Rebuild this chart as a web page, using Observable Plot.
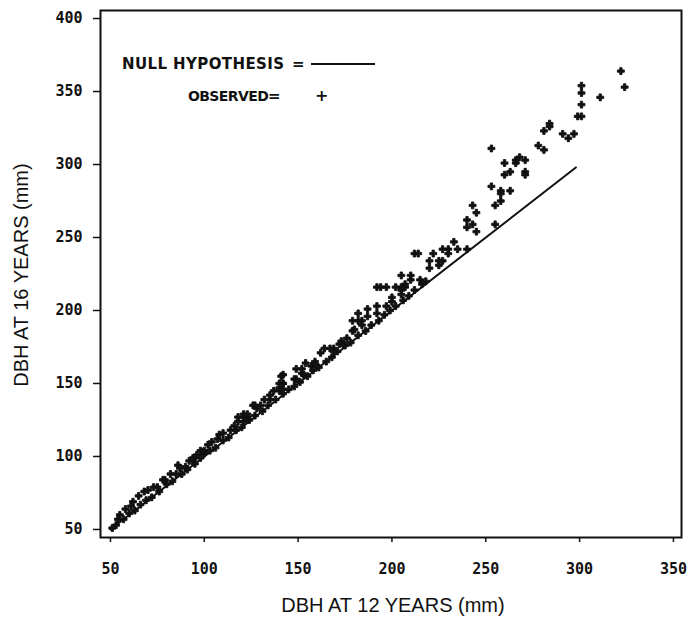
<!DOCTYPE html>
<html>
<head>
<meta charset="utf-8">
<script src="https://cdn.jsdelivr.net/npm/d3@7"></script>
<script src="https://cdn.jsdelivr.net/npm/@observablehq/plot@0.6"></script>
<style>
  html, body { margin: 0; padding: 0; background: white; }
  #wrap { position: relative; width: 689px; height: 617px; overflow: hidden; font-family: "Liberation Sans", Arial, sans-serif; color: #111; }
  .lg { position: absolute; font-family: "DejaVu Sans", sans-serif; font-weight: bold; font-size: 15px; white-space: nowrap; line-height: 1; }
  .title { position: absolute; font-size: 20px; white-space: nowrap; line-height: 1; }
</style>
</head>
<body>
<div id="wrap"></div>
<script>
// Tick labels
const xTicks = [50, 100, 150, 200, 250, 300, 350];
const yTicks = [50, 100, 150, 200, 250, 300, 350, 400];

// Null hypothesis line (DBH16 = DBH12)
const nullX = [50, 298];
const nullY = [50, 298];

// Observed points (DBH at 12 years, DBH at 16 years)
const obsX = [
  51, 53, 54, 55, 57, 58, 60, 61, 62, 63, 65, 66, 68, 69, 70, 72, 73, 75, 76, 78, 79, 80, 82, 83, 85, 86, 87, 88, 90, 91, 92, 94, 95, 96, 98, 99,
  98, 100, 100, 94, 102, 103, 104, 106, 107, 108, 110, 110, 113, 114, 116, 117, 118, 118, 120, 121, 121, 123, 121, 123, 124, 126, 127, 127, 130, 128, 131, 132, 134, 135, 135, 137, 138, 140, 140, 140, 142, 141, 142,
  142, 142, 142, 145, 148, 148, 149, 149, 151, 152, 152, 153, 154, 155, 157, 158, 159, 159, 161, 162, 164, 165, 167, 168, 169, 169, 171, 172, 174, 173, 175, 176, 178, 179,
  179, 182, 184, 184, 180, 182, 182, 186, 187, 187, 189, 192, 192, 193, 196, 197, 199, 200, 200, 202, 192, 194, 197, 202, 205, 207, 205, 205, 206, 207, 209, 210, 210, 205, 212, 215, 216, 218, 212, 214,
  220, 220, 222, 225, 225, 227, 227, 230, 230, 233, 235, 240, 240, 243, 240, 245, 243, 245,
  253, 253, 255, 255, 258, 258, 258, 263, 260, 263, 260, 266, 266, 268, 271, 271, 271,
  278, 281, 281, 284, 284, 291, 294, 297, 299, 301, 301, 301, 301, 311, 322, 324
];
const obsY = [
  51, 53, 57, 60, 57, 64, 61, 66, 69, 63, 73, 67, 76, 70, 77, 72, 79, 79, 76, 84, 84, 81, 88, 83, 88, 94, 92, 88, 93, 91, 97, 98, 95, 101, 99, 103,
  104, 104, 102, 99, 108, 104, 110, 106, 112, 115, 116, 111, 113, 118, 121, 118, 127, 124, 120, 127, 124, 127, 129, 129, 125, 135, 135, 128, 135, 133, 131, 139, 135, 142, 139, 145, 139, 150, 147, 145, 150, 155, 143,
  146, 150, 156, 146, 153, 148, 153, 160, 151, 160, 157, 156, 164, 155, 162, 159, 165, 163, 161, 171, 174, 165, 174, 168, 174, 172, 172, 177, 177, 179, 176, 181, 178, 186,
  193, 193, 193, 190, 187, 198, 183, 186, 196, 201, 190, 198, 203, 193, 197, 203, 200, 206, 209, 203, 216, 216, 216, 216, 216, 216, 214, 211, 207, 218, 210, 224, 221, 224, 214, 221, 218, 220, 239, 239,
  229, 234, 239, 234, 231, 234, 242, 242, 239, 247, 242, 242, 262, 259, 257, 254, 272, 267,
  285, 311, 259, 272, 275, 282, 280, 282, 301, 295, 293, 301, 303, 305, 303, 295, 293,
  313, 310, 323, 326, 328, 321, 318, 321, 333, 333, 341, 349, 354, 346, 364, 353
];

const obs = obsX.map((x, i) => ({x, y: obsY[i]}));
const nullLine = nullX.map((x, i) => ({x, y: nullY[i]}));

const chart = Plot.plot({
  width: 689,
  height: 617,
  marginLeft: 100,
  marginRight: 8,
  marginTop: 10,
  marginBottom: 80,
  x: {domain: [44.7, 354.3]},
  y: {domain: [44.5, 405.5]},
  style: {fontFamily: "'DejaVu Sans Mono', monospace", fontSize: "15px", fontWeight: "bold", color: "#111", background: "white"},
  marks: [
    Plot.frame({strokeWidth: 2, stroke: "#111"}),
    Plot.axisX({ticks: xTicks, tickSize: 5, tickPadding: 21, label: null, tickFormat: d => String(d), strokeWidth: 1.5}),
    Plot.axisY({ticks: yTicks, tickSize: 7, tickPadding: 11, label: null, tickFormat: d => String(d), strokeWidth: 1.5}),
    Plot.line(nullLine, {x: "x", y: "y", stroke: "#111", strokeWidth: 2}),
    Plot.dot(obs, {x: "x", y: "y", symbol: "cross", fill: "#111", stroke: "#111", strokeWidth: 0.9, r: 2.9})
  ]
});

const wrap = document.getElementById("wrap");
wrap.appendChild(chart);

function addDiv(cls, text, css) {
  const d = document.createElement("div");
  d.className = cls;
  d.textContent = text;
  Object.assign(d.style, css);
  wrap.appendChild(d);
  return d;
}

// Legend
addDiv("lg", "NULL HYPOTHESIS", {left: "122px", top: "57px", letterSpacing: "0.4px"});
addDiv("lg", "=", {left: "292px", top: "57px"});
const ln = document.createElement("div");
Object.assign(ln.style, {position: "absolute", left: "311px", top: "63px", width: "64px", height: "2px", background: "#111"});
wrap.appendChild(ln);
addDiv("lg", "OBSERVED", {left: "188px", top: "89px", fontSize: "14px", letterSpacing: "-0.6px"});
addDiv("lg", "=", {left: "268px", top: "89px"});
addDiv("lg", "+", {left: "315px", top: "88px", fontSize: "16px"});

// Axis titles
addDiv("title", "DBH AT 12 YEARS (mm)", {left: "393px", top: "595px", transform: "translateX(-50%)"});
addDiv("title", "DBH AT 16 YEARS (mm)", {left: "21px", top: "275px", transform: "translate(-50%, -50%) rotate(-90deg)"});
</script>
</body>
</html>
